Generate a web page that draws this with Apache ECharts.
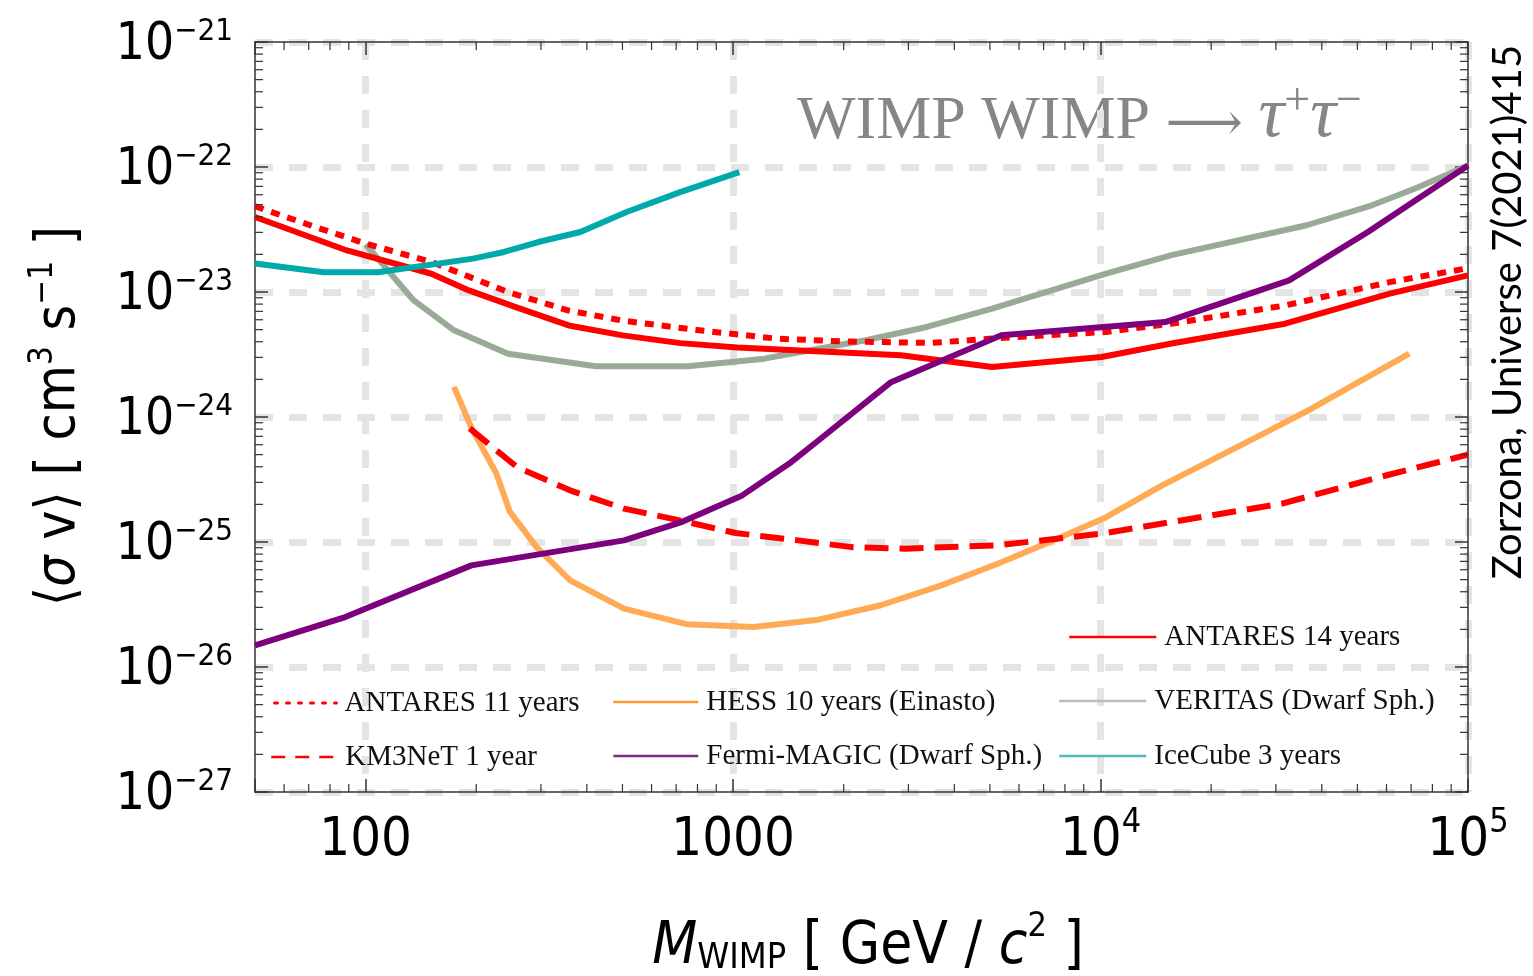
<!DOCTYPE html>
<html><head><meta charset="utf-8">
<script src="https://cdn.jsdelivr.net/npm/echarts@6/dist/echarts.min.js"></script>
<style>html,body{margin:0;padding:0;background:#fff}#chart{width:1533px;height:976px}</style>
</head><body><div id="chart"></div>
<script>
// ---------------- DATA ----------------
const antares14Mass = [50, 89, 151, 191, 255, 357, 501, 718, 1028, 1524, 2858, 5070, 10060, 15600, 31770, 61240, 100000];
const antares14Sv   = [3.98e-23, 2.15e-23, 1.40e-23, 1.03e-23, 7.6e-24, 5.4e-24, 4.5e-24, 3.9e-24, 3.6e-24, 3.41e-24, 3.12e-24, 2.51e-24, 3.02e-24, 3.87e-24, 5.58e-24, 9.7e-24, 1.36e-23];

const antares11Mass = [50, 73, 100, 151, 244, 357, 501, 809, 1309, 1958, 3459, 5070, 10350, 15600, 31770, 61240, 100000];
const antares11Sv   = [4.85e-23, 3.31e-23, 2.44e-23, 1.74e-23, 1.0e-23, 7.1e-24, 5.9e-24, 4.94e-24, 4.24e-24, 4.03e-24, 3.91e-24, 4.24e-24, 4.79e-24, 5.58e-24, 7.8e-24, 1.2e-23, 1.55e-23];

const km3netMass = [192, 258, 360, 505, 747, 1016, 1504, 2104, 2946, 5250, 10120, 31200, 60100, 100000];
const km3netSv   = [8.1e-25, 3.98e-25, 2.59e-25, 1.85e-25, 1.45e-25, 1.18e-25, 1.03e-25, 9.1e-26, 8.85e-26, 9.4e-26, 1.17e-25, 2.03e-25, 3.42e-25, 5.0e-25];

const hessMass = [174, 194.5, 227, 247, 292, 360, 505, 747, 1137, 1706, 2523, 3690, 5250, 7280, 10360, 14720, 27080, 37600, 69200];
const hessSv   = [1.74e-24, 8.07e-25, 3.52e-25, 1.74e-25, 9.1e-26, 4.94e-26, 2.93e-26, 2.2e-26, 2.09e-26, 2.39e-26, 3.12e-26, 4.5e-26, 6.7e-26, 1.0e-25, 1.58e-25, 2.84e-25, 7.1e-25, 1.17e-24, 3.21e-24];

const fermiMass = [50, 88, 194, 505, 727, 1059, 1422, 1730, 2690, 5370, 15000, 32600, 53400, 100000];
const fermiSv   = [1.49e-26, 2.51e-26, 6.5e-26, 1.03e-25, 1.45e-25, 2.36e-25, 4.24e-25, 6.7e-25, 1.9e-24, 4.5e-24, 5.75e-24, 1.24e-23, 3.02e-23, 1.03e-22];

const veritasMass = [100, 135, 174, 244, 423, 754, 1217, 1524, 2297, 3367, 5070, 10350, 15600, 36400, 54800, 72100, 100000];
const veritasSv   = [2.41e-23, 8.6e-24, 4.94e-24, 3.21e-24, 2.55e-24, 2.55e-24, 2.93e-24, 3.31e-24, 4.11e-24, 5.25e-24, 7.36e-24, 1.40e-23, 1.97e-23, 3.42e-23, 4.94e-23, 6.76e-23, 1.03e-22];

const icecubeMass = [50, 77, 108, 196, 238, 295, 384, 513, 718, 1040];
const icecubeSv   = [1.69e-23, 1.44e-23, 1.44e-23, 1.85e-23, 2.09e-23, 2.51e-23, 3.02e-23, 4.37e-23, 6.3e-23, 9.1e-23];

const seriesNames = ['ANTARES 14 years', 'ANTARES 11 years', 'KM3NeT 1 year', 'HESS 10 years (Einasto)',
                     'Fermi-MAGIC (Dwarf Sph.)', 'VERITAS (Dwarf Sph.)', 'IceCube 3 years'];

const xMin = 50, xMax = 1e5, yMin = 1e-27, yMax = 1e-21;
const xMajorTicks = [100, 1000, 1e4, 1e5];
const xTickLabels = ['100', '1000', '{b|10}{s|4}', '{b|10}{s|5}'];
const yExponents = [-27, -26, -25, -24, -23, -22, -21];
const minorMultipliers = [2, 3, 4, 5, 6, 7, 8, 9];
const xDecades = [1, 2, 3, 4];

// ECharts' log scale rounds to 10 decimals, so plot <σv> in units of 1e-27 cm^3 s^-1
const Y_UNIT = 1e-27;
const Y_UNIT_EXP = -27;

// ---------------- STYLE ----------------
const NARROW = "'Liberation Sans Narrow','Arial Narrow','DejaVu Sans Condensed','Liberation Sans',sans-serif";
const SERIF = "'Liberation Serif','Times New Roman',serif";
const RED = '#ff0000', ORANGE = '#ffaa55', PURPLE = '#7d007d', GREEN = '#99ab97', TEAL = '#00aaaa';

const zip = (a, b) => a.map((v, i) => [v, b[i] / Y_UNIT]);

// minor ticks (axis decoration)
const minorTickData = [];
xDecades.forEach(n => minorMultipliers.forEach(k => {
  const v = k * Math.pow(10, n);
  if (v > xMin && v < xMax) minorTickData.push([v, yMin / Y_UNIT, 0]);
}));
yExponents.slice(0, -1).forEach(n => minorMultipliers.forEach(k => {
  minorTickData.push([xMin, k * Math.pow(10, n - Y_UNIT_EXP), 1]);
}));

const chart = echarts.init(document.getElementById('chart'));

function lineSeries(name, mass, sv, color, type, z) {
  return {
    name, type: 'line', data: zip(mass, sv), xAxisIndex: 0, yAxisIndex: 0,
    symbol: 'none', showSymbol: false, smooth: false, z: z || 3,
    lineStyle: { color, width: 6, type: type || 'solid', cap: 'butt', join: 'round' },
    itemStyle: { color }, emphasis: { disabled: true }
  };
}

function legendFor(name, left, cy, width, color, lstyle) {
  return {
    data: [{ name }], left, top: cy - 15, orient: 'horizontal', padding: 0,
    itemWidth: width, itemHeight: 14, selectedMode: false, itemGap: 0,
    lineStyle: Object.assign({ color, width: 2.5, type: 'solid', cap: 'butt' }, lstyle || {}),
    itemStyle: { color: 'rgba(0,0,0,0)', borderWidth: 0, opacity: 0 },
    textStyle: { fontFamily: SERIF, fontSize: 29, color: '#111', lineHeight: 30, padding: [0, 0, 0, 3] }
  };
}

const yLabelRich = {
  b: { fontFamily: NARROW, fontSize: 51, lineHeight: 58, color: '#000', verticalAlign: 'bottom' },
  s: { fontFamily: NARROW, fontSize: 31, lineHeight: 32, color: '#000', verticalAlign: 'bottom', padding: [0, 0, 24, 0] }
};
const xLabelRich = {
  b: { fontFamily: NARROW, fontSize: 54, lineHeight: 60, color: '#000', verticalAlign: 'bottom' },
  s: { fontFamily: NARROW, fontSize: 34, lineHeight: 34, color: '#000', verticalAlign: 'bottom', padding: [0, 0, 28, 0] }
};

const isPow10 = v => Math.abs(Math.log10(v) - Math.round(Math.log10(v))) < 1e-6;

const option = {
  animation: false,
  backgroundColor: '#fff',
  grid: { left: 255, right: 65, top: 42, bottom: 184, containLabel: false },
  xAxis: [{
    type: 'log', logBase: 10, min: xMin, max: xMax, splitNumber: 3, position: 'bottom',
    axisLine: { show: true, lineStyle: { color: '#333', width: 1.5 } },
    axisTick: { show: true, inside: true, length: 13, lineStyle: { color: '#333', width: 1.5 } },
    axisLabel: {
      margin: 16, color: '#000',
      formatter: v => { const i = xMajorTicks.findIndex(t => Math.abs(t - v) / t < 1e-6); return i >= 0 ? (i < 2 ? '{b|' + xTickLabels[i] + '}' : xTickLabels[i]) : ''; },
      rich: xLabelRich
    },
    splitLine: { show: true, showMinLine: false, lineStyle: { color: '#e4e4e4', width: 7, type: [18, 16] } }
  }, {
    type: 'log', logBase: 10, min: xMin, max: xMax, splitNumber: 3, position: 'top',
    axisLine: { show: true, lineStyle: { color: '#333', width: 1.5 } },
    axisTick: { show: true, inside: true, length: 13, lineStyle: { color: '#333', width: 1.5 } },
    axisLabel: { show: false }, splitLine: { show: false }
  }],
  yAxis: [{
    type: 'log', logBase: 10, min: yMin / Y_UNIT, max: yMax / Y_UNIT, splitNumber: 6, position: 'left',
    axisLine: { show: true, lineStyle: { color: '#333', width: 1.5 } },
    axisTick: { show: true, inside: true, length: 13, lineStyle: { color: '#333', width: 1.5 } },
    axisLabel: {
      margin: 22, color: '#000',
      formatter: v => {
        if (!isPow10(v)) return '';
        const n = Math.round(Math.log10(v)) + Y_UNIT_EXP;
        return '{b|10}{s|' + (n < 0 ? '\u2212' + (-n) : n) + '}';
      },
      rich: yLabelRich
    },
    splitLine: { show: true, lineStyle: { color: '#e4e4e4', width: 7, type: [18, 16] } }
  }, {
    type: 'log', logBase: 10, min: yMin / Y_UNIT, max: yMax / Y_UNIT, splitNumber: 6, position: 'right',
    axisLine: { show: true, lineStyle: { color: '#333', width: 1.5 } },
    axisTick: { show: true, inside: true, length: 13, lineStyle: { color: '#333', width: 1.5 } },
    axisLabel: { show: false }, splitLine: { show: false }
  }],
  legend: [
    legendFor(seriesNames[0], 1068, 637, 87, RED),
    legendFor(seriesNames[1], 273, 703, 62, RED, { type: [3, 9], width: 3, cap: 'round' }),
    legendFor(seriesNames[2], 270, 757, 66, RED, { type: [14, 10], width: 2.5 }),
    legendFor(seriesNames[3], 612, 702, 85, '#ff9933'),
    legendFor(seriesNames[4], 612, 756, 85, '#802a80'),
    legendFor(seriesNames[5], 1058, 701, 87, '#b3bfb3'),
    legendFor(seriesNames[6], 1058, 756, 87, '#4cb8c2')
  ],
  graphic: [
    { type: 'text', x: 797, y: 120, silent: true, style: {
        text: '{a|WIMP WIMP }{r|\u27F6}{a| }{t|\u03C4}{s|+}{t|\u03C4}{s|\u2212}',
        textAlign: 'left', textVerticalAlign: 'middle',
        rich: {
          a: { fontFamily: SERIF, fontSize: 62, lineHeight: 66, fill: '#868686', verticalAlign: 'bottom' },
          r: { fontFamily: "'DejaVu Serif','DejaVu Sans',serif", fontSize: 54, lineHeight: 66, fill: '#868686', verticalAlign: 'bottom' },
          t: { fontFamily: SERIF, fontSize: 72, lineHeight: 66, fill: '#868686', fontStyle: 'italic', verticalAlign: 'bottom' },
          s: { fontFamily: SERIF, fontSize: 46, lineHeight: 40, fill: '#868686', verticalAlign: 'bottom', padding: [0, 0, 28, 0] }
        } } },
    { type: 'text', x: 1508, y: 312, rotation: Math.PI / 2, silent: true, style: {
        text: 'Zorzona, Universe 7(2021)415', fontFamily: "'Lato','Open Sans',sans-serif", fontSize: 40,
        fill: '#000', textAlign: 'center', textVerticalAlign: 'middle' } },
    { type: 'text', x: 57, y: 416, rotation: Math.PI / 2, silent: true, style: {
        text: '{m|\u27E8}{i|\u03C3}{m| v\u27E9 [ cm}{s|3}{m| s}{s|\u22121}{m| ]}',
        textAlign: 'center', textVerticalAlign: 'middle',
        rich: {
          m: { fontFamily: NARROW, fontSize: 55, lineHeight: 60, fill: '#000', verticalAlign: 'bottom' },
          i: { fontFamily: NARROW, fontSize: 55, lineHeight: 60, fill: '#000', fontStyle: 'italic', verticalAlign: 'bottom' },
          s: { fontFamily: NARROW, fontSize: 33, lineHeight: 32, fill: '#000', verticalAlign: 'bottom', padding: [0, 0, 27, 0] }
        } } },
    { type: 'text', x: 868, y: 945, silent: true, style: {
        text: '{i|M}{sub|WIMP}{m| [ GeV / }{i|c}{sup|2}{m| ]}',
        textAlign: 'center', textVerticalAlign: 'middle',
        rich: {
          m: { fontFamily: NARROW, fontSize: 58, lineHeight: 64, fill: '#000', verticalAlign: 'bottom' },
          i: { fontFamily: NARROW, fontSize: 58, lineHeight: 64, fill: '#000', fontStyle: 'italic', verticalAlign: 'bottom' },
          sub: { fontFamily: NARROW, fontSize: 36, lineHeight: 32, fill: '#000', verticalAlign: 'bottom' },
          sup: { fontFamily: NARROW, fontSize: 34, lineHeight: 32, fill: '#000', verticalAlign: 'bottom', padding: [0, 0, 33, 0] }
        } } }
  ],
  series: [
    lineSeries(seriesNames[3], hessMass, hessSv, ORANGE, 'solid', 3),
    lineSeries(seriesNames[5], veritasMass, veritasSv, GREEN, 'solid', 3),
    lineSeries(seriesNames[0], antares14Mass, antares14Sv, RED, 'solid', 4),
    lineSeries(seriesNames[1], antares11Mass, antares11Sv, RED, [9, 8], 4),
    lineSeries(seriesNames[2], km3netMass, km3netSv, RED, [24, 11], 4),
    lineSeries(seriesNames[4], fermiMass, fermiSv, PURPLE, 'solid', 5),
    lineSeries(seriesNames[6], icecubeMass, icecubeSv, TEAL, 'solid', 5),
    {
      type: 'custom', name: 'minorTicks', xAxisIndex: 0, yAxisIndex: 0, silent: true, clip: false, z: 10,
      data: minorTickData, encode: { x: 0, y: 1 },
      renderItem: (params, api) => {
        const kind = api.value(2);
        const p = api.coord([api.value(0), api.value(1)]);
        const cs = params.coordSys;
        const L = 8;
        const style = { stroke: '#333', lineWidth: 1.2 };
        if (kind === 0) {
          return { type: 'group', children: [
            { type: 'line', shape: { x1: p[0], y1: cs.y + cs.height, x2: p[0], y2: cs.y + cs.height - L }, style },
            { type: 'line', shape: { x1: p[0], y1: cs.y, x2: p[0], y2: cs.y + L }, style }
          ] };
        }
        return { type: 'group', children: [
          { type: 'line', shape: { x1: cs.x, y1: p[1], x2: cs.x + L, y2: p[1] }, style },
          { type: 'line', shape: { x1: cs.x + cs.width, y1: p[1], x2: cs.x + cs.width - L, y2: p[1] }, style }
        ] };
      }
    }
  ]
};
chart.setOption(option);
</script>
</body></html>
